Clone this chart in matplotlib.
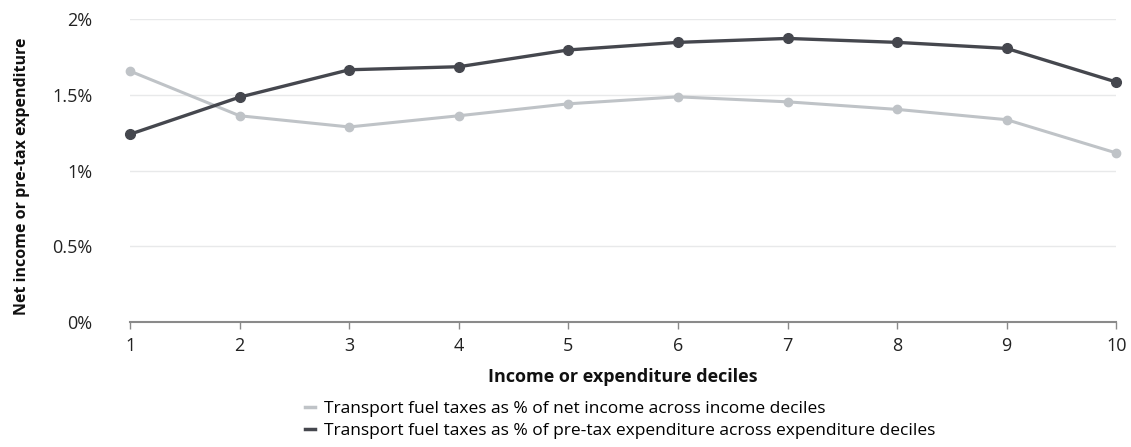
import matplotlib as mpl
mpl.use("Agg")
import matplotlib.pyplot as plt
from matplotlib.lines import Line2D

# deciles and values (% of income / expenditure)
deciles = [1, 2, 3, 4, 5, 6, 7, 8, 9, 10]
income_share = [1.657, 1.362, 1.288, 1.362, 1.441, 1.487, 1.454, 1.404, 1.336, 1.116]
expend_share = [1.240, 1.485, 1.666, 1.686, 1.797, 1.847, 1.873, 1.847, 1.807, 1.585]

ytick_vals = [0, 0.5, 1, 1.5, 2]
ytick_labels = ["0%", "0.5%", "1%", "1.5%", "2%"]

income_label = "Transport fuel taxes as % of net income across income deciles"
expend_label = "Transport fuel taxes as % of pre-tax expenditure across expenditure deciles"

light = "#bfc3c7"
dark = "#45474e"

narrow = ["Liberation Sans Narrow", "Open Sans", "DejaVu Sans"]

fig = plt.figure(figsize=(11.31, 4.47), dpi=100)
ax = fig.add_axes([0.115, 0.28, 0.872, 0.677])

ax.plot(deciles, income_share, color=light, lw=2.2, marker="o", ms=6, zorder=3, clip_on=False)
ax.plot(deciles, expend_share, color=dark, lw=2.4, marker="o", ms=7, zorder=4, clip_on=False)

ax.set_xlim(1, 10)
ax.set_ylim(0, 2)
ax.set_xticks(deciles)
ax.set_xticklabels([str(d) for d in deciles], family=narrow, fontsize=13, color="#222222")
ax.set_yticks(ytick_vals)
ax.set_yticklabels(ytick_labels, family=narrow, fontsize=13, color="#222222")

for y in ytick_vals[1:]:
    ax.axhline(y, color="#e8e9ea", lw=1, zorder=1)

for s in ["top", "right", "left"]:
    ax.spines[s].set_visible(False)
ax.spines["bottom"].set_color("#8a8a8a")
ax.spines["bottom"].set_linewidth(1.5)
ax.tick_params(axis="x", length=5, color="#8a8a8a", width=1, pad=6)
ax.tick_params(axis="y", length=0, pad=27)

ax.set_xlabel("Income or expenditure deciles", family=narrow, fontsize=13,
              fontweight="bold", color="#111111", labelpad=9)
fig.text(0.012, 0.605, "Net income or pre-tax expenditure", rotation=90,
         family=["Open Sans", "DejaVu Sans"], fontweight="bold", fontsize=11.5,
         ha="left", va="center", color="#111111")

handles = [Line2D([], [], color=light, lw=2.5), Line2D([], [], color=dark, lw=2.5)]
fig.legend(handles, [income_label, expend_label], loc="upper left",
           bbox_to_anchor=(0.262, 0.122), frameon=False, handlelength=0.6,
           handletextpad=0.5, labelspacing=0.3, borderpad=0,
           prop={"family": narrow, "size": 12.5})

fig.savefig("out.png", dpi=100)
